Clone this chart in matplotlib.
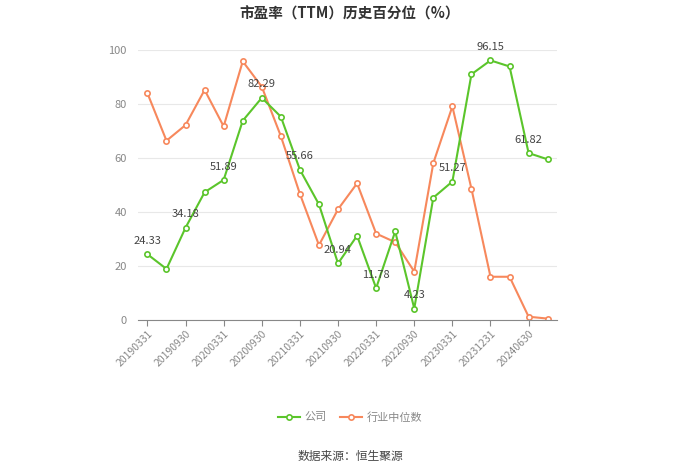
import matplotlib
matplotlib.use("agg")
import matplotlib.pyplot as plt

plt.rcParams["font.family"] = ["Noto Sans CJK SC", "DejaVu Sans"]

dates = ["20190331", "20190630", "20190930", "20191231", "20200331", "20200630",
         "20200930", "20201231", "20210331", "20210630", "20210930", "20211231",
         "20220331", "20220630", "20220930", "20221231", "20230331", "20230930",
         "20231231", "20240331", "20240630", "20240930"]
company = [24.33, 18.9, 34.18, 47.3, 51.89, 73.8, 82.29, 75.3, 55.66, 42.8, 20.94,
           31.2, 11.78, 32.8, 4.23, 45.3, 51.27, 91.0, 96.15, 93.9, 61.82, 59.5]
industry = [84.0, 66.4, 72.2, 85.2, 71.7, 95.8, 86.4, 68.1, 46.7, 27.7, 41.0, 50.6,
            32.0, 28.8, 17.9, 58.1, 79.1, 48.6, 16.0, 16.0, 1.2, 0.5]

green = "#5bc52b"
orange = "#f7885c"

fig = plt.figure(figsize=(7, 4.74), dpi=100)
ax = fig.add_axes([0.197, 0.325, 0.599, 0.5695])

x = list(range(len(dates)))
ax.plot(x, company, color=green, lw=1.5, marker="o", ms=3.8, mfc="white",
        mec=green, mew=1.2, label="公司", zorder=3)
ax.plot(x, industry, color=orange, lw=1.5, marker="o", ms=3.8, mfc="white",
        mec=orange, mew=1.2, label="行业中位数", zorder=2)

for i in range(0, len(dates), 2):
    ax.annotate(f"{company[i]:.2f}", (x[i], company[i]), xytext=(0, 6),
                textcoords="offset points", ha="center", va="bottom",
                fontsize=8, color="#444444", zorder=4)

ax.set_xlim(-0.5, len(dates) - 0.5)
ax.set_ylim(0, 100)
ax.set_yticks([0, 20, 40, 60, 80, 100])
ax.set_xticks(x[::2])
ax.set_xticklabels(dates[::2], rotation=45, ha="right", rotation_mode="anchor",
                   fontsize=7.5, color="#888888")
ax.tick_params(axis="y", length=0, labelsize=8, labelcolor="#888888", pad=8)
ax.tick_params(axis="x", length=4, color="#888888", pad=2)
ax.grid(axis="y", color="#e8e8e8", lw=0.8)
ax.set_axisbelow(True)
for s in ["top", "right", "left"]:
    ax.spines[s].set_visible(False)
ax.spines["bottom"].set_color("#888888")

fig.text(0.5, 0.972, "市盈率（TTM）历史百分位（%）", ha="center", va="center",
         fontsize=10.5, fontweight="bold", color="#333333")

leg = fig.legend(loc="center", bbox_to_anchor=(0.5, 0.12), ncol=2, frameon=False,
                 fontsize=8, handlelength=2, columnspacing=1.2, handletextpad=0.4)
for t in leg.get_texts():
    t.set_color("#888888")

fig.text(0.5, 0.036, "数据来源：恒生聚源", ha="center", va="center", fontsize=8.5,
         color="#444444")

fig.savefig("out.png", dpi=100)
